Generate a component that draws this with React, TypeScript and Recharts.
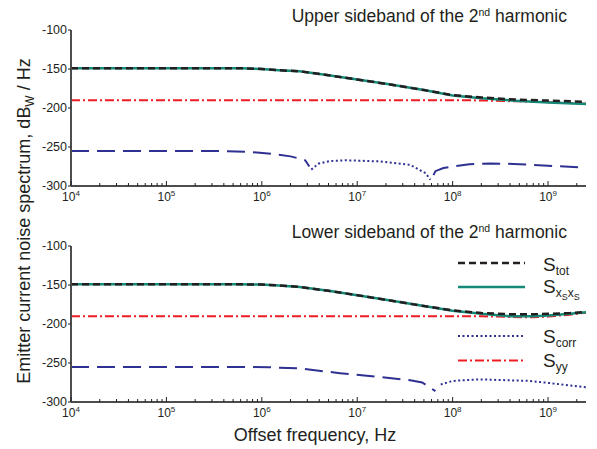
import React from "react";
import { LineChart, Line, XAxis, YAxis } from "recharts";

const FONT = "'Liberation Sans', Arial, sans-serif";
const INK = "#231f20";

// axes
const majorTicks = [1e4, 1e5, 1e6, 1e7, 1e8, 1e9];
const minorMult = [2, 3, 4, 5, 6, 7, 8, 9];
const yTicks = [-300, -250, -200, -150, -100];
const xDomain = [1e4, 2.5e9];

// upper sideband of the 2nd harmonic
const upFreq = [1e4, 1e5, 3e5, 6e5, 1e6, 1.5e6, 2.5e6, 5e6, 1e7, 2e7, 5e7, 1e8, 2e8, 5e8, 1e9, 2.5e9];
const upTot = [-149, -149, -149, -149, -150, -151.5, -153, -158, -163.5, -169, -177, -183.5, -186.5, -189.5, -190.5, -192];
const upXsXs = [-149, -149, -149, -149, -150, -151.5, -153, -158, -163.5, -169, -177, -184, -187.5, -191, -193, -195];
const upYy = [-190, -190, -190, -190, -190, -190, -190, -190, -190, -190, -190, -190, -190.3, -191.5, -192.5, -194.5];

const upCorrNegF = [1e4, 3e5, 7e5, 1.3e6, 2e6, 2.5e6, 2.85e6, 3.15e6, 3.2e6, 6.3e7, 6.6e7, 8e7, 1e8, 1.5e8, 2.5e8, 5e8, 1e9, 2.5e9];
const upCorrNegV = [-255, -255, -256, -259, -262, -265, -267, -275, null, -286, -281, -277, -275, -272, -271, -272, -274, -276.5];
const upCorrPosF = [3.3e6, 3.9e6, 5.2e6, 7.5e6, 1.75e7, 3.6e7, 5.2e7, 5.85e7];
const upCorrPosV = [-279, -271.5, -268, -267, -268.5, -273, -283.5, -292];

// lower sideband of the 2nd harmonic
const loFreq = [1e4, 1e5, 5e5, 1e6, 1.5e6, 2.5e6, 5e6, 1e7, 2e7, 5e7, 1e8, 2e8, 4e8, 7e8, 1e9, 1.7e9, 2.5e9];
const loTot = [-149, -149, -149, -149.5, -150.5, -152.5, -157.5, -163, -169, -177, -182.5, -186, -187.5, -187.5, -187, -186, -184.5];
const loXsXs = [-149, -149, -149, -149.5, -150.5, -152.5, -157.5, -163, -169, -177, -183, -187, -190, -190, -189, -187, -185];
const loYy = [-190, -190, -190, -190, -190, -190, -190, -190, -190, -190, -190, -190, -191, -191.5, -190.5, -188, -185.5];

const loCorrNegF = [1e4, 5e5, 1.2e6, 2.5e6, 6.6e6, 1.7e7, 3.6e7, 4.8e7, 6.6e7];
const loCorrNegV = [-255, -255, -255.5, -257, -263, -268, -272, -275, -286];
const loCorrPosF = [7.5e7, 1e8, 1.9e8, 6.5e8, 1e9, 2.5e9];
const loCorrPosV = [-277.5, -273, -271, -273, -275.5, -281];

const C_TOT = "#231f20";
const C_XSXS = "#168a78";
const C_CORR = "#2e3192";
const C_YY = "#ed1c24";
const DASH_TOT = "7 4";
const DASH_YY = "9 3 2 3";
const DASH_CORR = "18 8";
const DOT_CORR = "2 2.5";

const xTicks: number[] = [];
majorTicks.forEach((m) => {
  xTicks.push(m);
  minorMult.forEach((k) => {
    if (m * k <= xDomain[1]) xTicks.push(m * k);
  });
});

const rows = (f: number[], cols: Record<string, (number | null)[]>) =>
  f.map((x, i) => {
    const r: Record<string, number | null> = { f: x };
    Object.keys(cols).forEach((k) => (r[k] = cols[k][i]));
    return r;
  });

const XTick = (props: any) => {
  const { x, y, payload } = props;
  const v = payload.value;
  const exp = Math.log10(v);
  const major = Math.abs(exp - Math.round(exp)) < 1e-6;
  return (
    <g>
      <line x1={x} x2={x} y1={y} y2={y - (major ? 5 : 3)} stroke={INK} strokeWidth={1} />
      {major && (
        <text x={x} y={y + 15} textAnchor="middle" fontSize={12} fontFamily={FONT} fill={INK}>
          10
          <tspan dy={-5} fontSize={8}>
            {Math.round(exp)}
          </tspan>
        </text>
      )}
    </g>
  );
};

function Panel({ main, negF, negV, posF, posV }: any) {
  return (
    <LineChart
      width={597}
      height={220}
      data={main}
      margin={{ top: 30, right: 11, bottom: 4, left: 8 }}
    >
      <XAxis
        dataKey="f"
        type="number"
        scale="log"
        domain={xDomain}
        allowDataOverflow
        ticks={xTicks}
        interval={0}
        tickSize={0}
        tickMargin={0}
        tick={<XTick />}
        height={30}
        axisLine={{ stroke: "#4d4d4d", strokeWidth: 2 }}
      />
      <XAxis
        xAxisId="top"
        orientation="top"
        type="number"
        domain={[0, 1]}
        tick={false}
        tickLine={false}
        height={0}
        axisLine={{ stroke: INK, strokeWidth: 1 }}
      />
      <YAxis
        type="number"
        domain={[-300, -100]}
        ticks={yTicks}
        interval={0}
        width={63}
        tickSize={3}
        tickMargin={1}
        tick={{ fontSize: 12.5, fontFamily: FONT, fill: INK }}
        tickLine={{ stroke: INK }}
        axisLine={{ stroke: "#4d4d4d", strokeWidth: 2 }}
      />
      <YAxis
        yAxisId="right"
        orientation="right"
        type="number"
        domain={[0, 1]}
        tick={false}
        tickLine={false}
        width={0}
        axisLine={{ stroke: INK, strokeWidth: 1 }}
      />
      <Line dataKey="yy" stroke={C_YY} strokeWidth={2} strokeDasharray={DASH_YY} dot={false} isAnimationActive={false} />
      <Line
        data={rows(negF, { v: negV })}
        dataKey="v"
        stroke={C_CORR}
        strokeWidth={2}
        strokeDasharray={DASH_CORR}
        dot={false}
        isAnimationActive={false}
      />
      <Line
        data={rows(posF, { v: posV })}
        dataKey="v"
        stroke={C_CORR}
        strokeWidth={2}
        strokeDasharray={DOT_CORR}
        dot={false}
        isAnimationActive={false}
      />
      <Line dataKey="xsxs" stroke={C_XSXS} strokeWidth={2.5} dot={false} isAnimationActive={false} />
      <Line dataKey="tot" stroke={C_TOT} strokeWidth={2.5} strokeDasharray={DASH_TOT} dot={false} isAnimationActive={false} />
    </LineChart>
  );
}

export default function App() {
  const upRows = rows(upFreq, { tot: upTot, xsxs: upXsXs, yy: upYy });
  const loRows = rows(loFreq, { tot: loTot, xsxs: loXsXs, yy: loYy });
  const legend = [
    { y: 263, stroke: C_TOT, w: 2.5, dash: DASH_TOT },
    { y: 287, stroke: C_XSXS, w: 2.5, dash: undefined },
    { y: 336, stroke: C_CORR, w: 2, dash: DOT_CORR },
    { y: 360.5, stroke: C_YY, w: 2, dash: DASH_YY },
  ];
  return (
    <div style={{ position: "absolute", left: 0, top: 0, width: 597, height: 449, background: "#fff", fontFamily: FONT }}>
      <div style={{ position: "absolute", left: 0, top: 0 }}>
        <Panel main={upRows} negF={upCorrNegF} negV={upCorrNegV} posF={upCorrPosF} posV={upCorrPosV} />
      </div>
      <div style={{ position: "absolute", left: 0, top: 216 }}>
        <Panel main={loRows} negF={loCorrNegF} negV={loCorrNegV} posF={loCorrPosF} posV={loCorrPosV} />
      </div>
      <svg width={597} height={449} style={{ position: "absolute", left: 0, top: 0, pointerEvents: "none" }}>
        <text x={567} y={21.5} textAnchor="end" fontSize={17.5} fontFamily={FONT} fill={INK}>
          Upper sideband of the 2<tspan dy={-6} fontSize={10.5}>nd</tspan>
          <tspan dy={6}> harmonic</tspan>
        </text>
        <text x={567} y={238} textAnchor="end" fontSize={17.5} fontFamily={FONT} fill={INK}>
          Lower sideband of the 2<tspan dy={-6} fontSize={10.5}>nd</tspan>
          <tspan dy={6}> harmonic</tspan>
        </text>
        <text
          transform="translate(30,221) rotate(-90)"
          textAnchor="middle"
          fontSize={18}
          fontFamily={FONT}
          fill={INK}
        >
          Emitter current noise spectrum, dB<tspan dy={4} fontSize={12}>W</tspan>
          <tspan dy={-4}> / Hz</tspan>
        </text>
        <text x={315} y={441} textAnchor="middle" fontSize={18} fontFamily={FONT} fill={INK}>
          Offset frequency, Hz
        </text>
        {legend.map((l) => (
          <line key={l.y} x1={458} x2={525} y1={l.y} y2={l.y} stroke={l.stroke} strokeWidth={l.w} strokeDasharray={l.dash} />
        ))}
        <text x={543} y={271} fontSize={19} fontFamily={FONT} fill={INK}>
          S<tspan dy={4} fontSize={12}>tot</tspan>
        </text>
        <text x={543} y={293} fontSize={19} fontFamily={FONT} fill={INK}>
          S<tspan dy={4} fontSize={12}>x</tspan>
          <tspan dy={3} fontSize={9}>S</tspan>
          <tspan dy={-3} fontSize={12}>x</tspan>
          <tspan dy={3} fontSize={9}>S</tspan>
        </text>
        <text x={543} y={343} fontSize={19} fontFamily={FONT} fill={INK}>
          S<tspan dy={4} fontSize={12}>corr</tspan>
        </text>
        <text x={543} y={367} fontSize={19} fontFamily={FONT} fill={INK}>
          S<tspan dy={4} fontSize={12}>yy</tspan>
        </text>
      </svg>
    </div>
  );
}
